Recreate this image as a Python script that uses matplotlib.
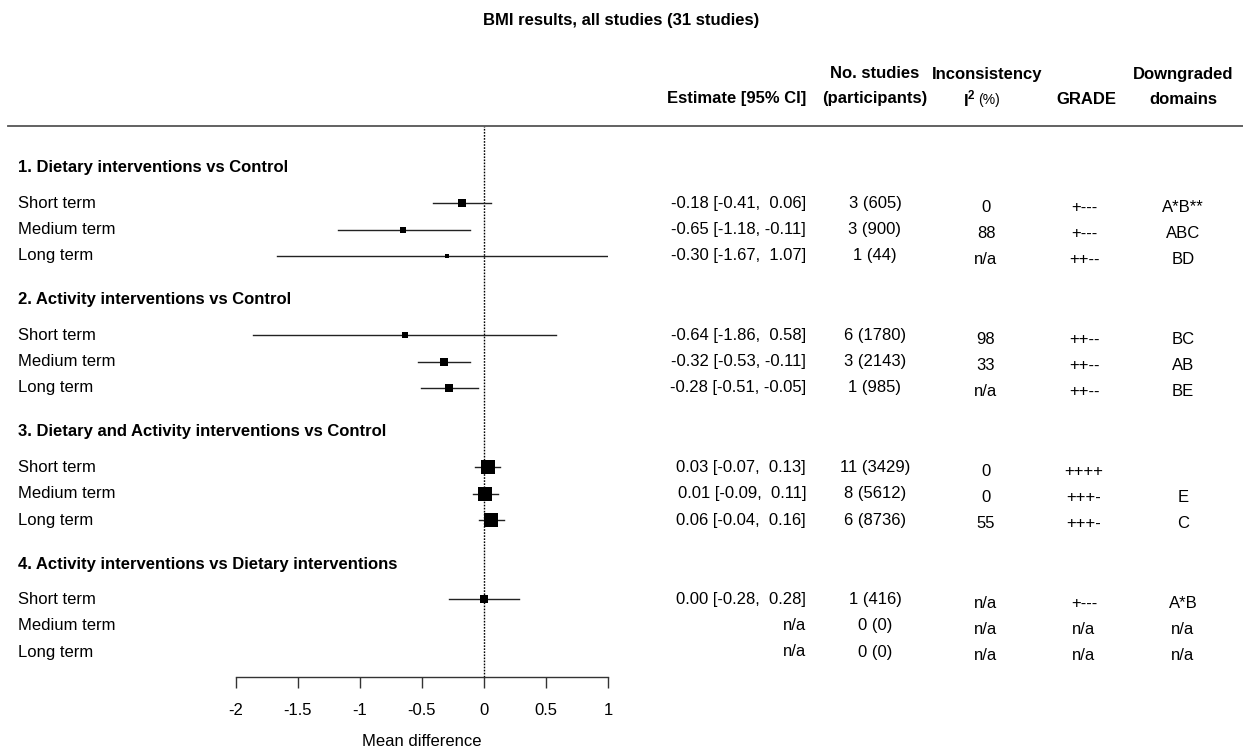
import numpy as np
import matplotlib
matplotlib.use("Agg")
import matplotlib.pyplot as plt
from matplotlib.lines import Line2D
from matplotlib.transforms import blended_transform_factory

plt.rcParams['font.family'] = ['Liberation Sans', 'DejaVu Sans']
plt.rcParams['mathtext.fontset'] = 'custom'
plt.rcParams['mathtext.rm'] = 'Liberation Sans'
plt.rcParams['mathtext.bf'] = 'Liberation Sans:bold'

# ------------------------------ Data ------------------------------------------
title = 'BMI results, all studies (31 studies)'
groups = ['1. Dietary interventions vs Control',
          '2. Activity interventions vs Control',
          '3. Dietary and Activity interventions vs Control',
          '4. Activity interventions vs Dietary interventions']
terms = ['Short term', 'Medium term', 'Long term']

est = [-0.18, -0.65, -0.30, -0.64, -0.32, -0.28, 0.03, 0.01, 0.06, 0.00, np.nan, np.nan]
ci_lo = [-0.41, -1.18, -1.67, -1.86, -0.53, -0.51, -0.07, -0.09, -0.04, -0.28, np.nan, np.nan]
ci_hi = [0.06, -0.11, 1.07, 0.58, -0.11, -0.05, 0.13, 0.11, 0.16, 0.28, np.nan, np.nan]
n_studies = [3, 3, 1, 6, 3, 1, 11, 8, 6, 1, 0, 0]
n_participants = [605, 900, 44, 1780, 2143, 985, 3429, 5612, 8736, 416, 0, 0]
i2 = ['0', '88', 'n/a', '98', '33', 'n/a', '0', '0', '55', 'n/a', 'n/a', 'n/a']
grade = ['+---', '+---', '++--', '++--', '++--', '++--',
         '++++', '+++-', '+++-', '+---', 'n/a', 'n/a']
domains = ['A*B**', 'ABC', 'BD', 'BC', 'AB', 'BE', '', 'E', 'C', 'A*B', 'n/a', 'n/a']

xticks = [-2, -1.5, -1, -0.5, 0, 0.5, 1]
xtick_labels = ['-2', '-1.5', '-1', '-0.5', '0', '0.5', '1']

# ------------------------------ Layout ----------------------------------------
W, H = 1243, 749
ROW = 26.4                    # px per row
Y0 = 168                      # px of first group heading
X_LO, X_HI = 236, 608         # px of x = -2 and x = 1
Y_TOP, Y_AX = 126, 677        # header rule and x-axis (px)


def fx(px):
    return px / W


def fy(py):
    return 1 - py / H


def row_of(py):
    return (py - Y0) / ROW


fig = plt.figure(figsize=(W / 100, H / 100), dpi=100)
ax = fig.add_axes([fx(X_LO), fy(Y_AX), (X_HI - X_LO) / W, (Y_AX - Y_TOP) / H])
ax.set_xlim(-2, 1)
ax.set_ylim(row_of(Y_AX), row_of(Y_TOP))
for s in ['top', 'left', 'right']:
    ax.spines[s].set_visible(False)
ax.spines['bottom'].set_color('#333333')
ax.spines['bottom'].set_linewidth(1.0)
ax.set_yticks([])
ax.set_xticks(xticks)
ax.set_xticklabels(xtick_labels)
ax.tick_params(axis='x', direction='out', length=8, width=1.0, color='#333333',
               pad=11, labelsize=12)
ax.set_xlabel('Mean difference', fontsize=12, labelpad=11)

tr = blended_transform_factory(fig.transFigure, ax.transData)

# row positions: heading, then three terms offset by 4/3 rows
head_rows = [5 * g for g in range(len(groups))]
item_rows = [5 * g + 4 / 3 + k for g in range(len(groups)) for k in range(len(terms))]

# square size from precision, scaled between 5 and 14 px
est_a = np.array(est)
lo_a = np.array(ci_lo)
hi_a = np.array(ci_hi)
prec = 1 / (hi_a - lo_a)
pmin, pmax = np.nanmin(prec), np.nanmax(prec)
side_px = 5 + 9 * (prec - pmin) / (pmax - pmin)

ax.axvline(0, color='black', lw=1.0, ls=(0, (1.2, 1.0)), zorder=1)

for i, r in enumerate(item_rows):
    ax.text(fx(18), r, terms[i % 3], transform=tr, ha='left', va='center', fontsize=12)
    if not np.isnan(est_a[i]):
        ax.plot([lo_a[i], hi_a[i]], [r, r], color='#222222', lw=1.0, zorder=2)
        ax.plot(est_a[i], r, marker='s', color='black', ms=side_px[i] * 0.72,
                mew=0, zorder=3)
        est_txt = f'{est_a[i]:.2f} [{lo_a[i]:5.2f}, {hi_a[i]:5.2f}]'
    else:
        est_txt = 'n/a'
    ax.text(fx(806), r, est_txt, transform=tr, ha='right', va='center', fontsize=12)
    ax.text(fx(875), r, f'{n_studies[i]} ({n_participants[i]})', transform=tr,
            ha='center', va='center', fontsize=12)
    ax.text(fx(986), r + 0.15, i2[i], transform=tr, ha='center', va='center', fontsize=12)
    ax.text(fx(1084), r + 0.15, grade[i], transform=tr, ha='center', va='center', fontsize=12)
    ax.text(fx(1183), r + 0.15, domains[i], transform=tr, ha='center', va='center', fontsize=12)

for g, r in enumerate(head_rows):
    ax.text(fx(18), r, groups[g], transform=tr, ha='left', va='center',
            fontsize=12, fontweight='bold')

# title and column headings
fig.text(0.5, fy(20), title, ha='center', va='center', fontsize=12, fontweight='bold')
hdr = dict(ha='center', va='center', fontsize=12, fontweight='bold')
fig.text(fx(875), fy(74), 'No. studies', **hdr)
fig.text(fx(875), fy(99), '(participants)', **hdr)
fig.text(fx(806), fy(99), 'Estimate [95% CI]', ha='right', va='center',
         fontsize=12, fontweight='bold')
fig.text(fx(987), fy(74), 'Inconsistency', **hdr)
fig.text(fx(976), fy(99), r'$\mathbf{I}^{\mathbf{2}}$', ha='right', va='center', fontsize=12)
fig.text(fx(978), fy(100), '(%)', ha='left', va='center', fontsize=10)
fig.text(fx(1086), fy(99), 'GRADE', **hdr)
fig.text(fx(1183), fy(74), 'Downgraded', **hdr)
fig.text(fx(1183), fy(99), 'domains', **hdr)

fig.add_artist(Line2D([fx(8), 1], [fy(Y_TOP), fy(Y_TOP)], transform=fig.transFigure,
                      color='#555555', lw=1.3))

fig.savefig('out.png', dpi=100, facecolor='white')
